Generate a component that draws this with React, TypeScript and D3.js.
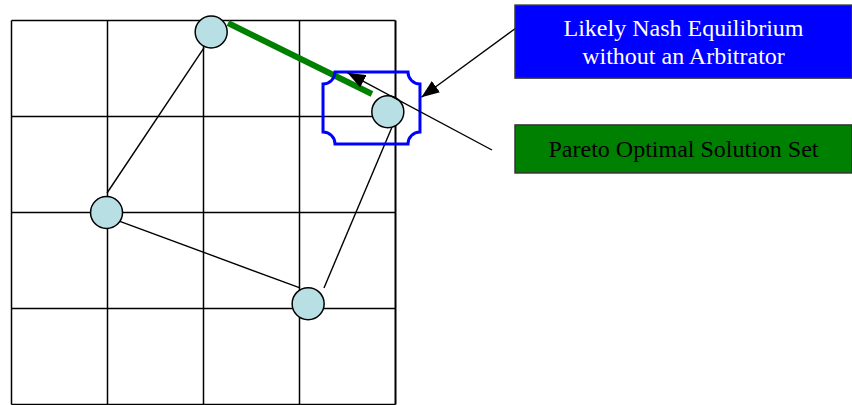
import React from 'react';
import * as d3 from 'd3';

// grid ticks (payoff units on both axes)
const gridTicks = [0, 1, 2, 3, 4];

// outcome points, in grid units
const pointX = [2.08, 0.99, 3.09, 3.92];
const pointY = [3.88, 2.0, 1.05, 3.05];

// connectors between outcomes [x1, y1, x2, y2]
const connectors = [
  [2.005, 3.714, 0.995, 2.203],
  [0.995, 1.958, 3.005, 1.214],
  [3.255, 1.214, 3.964, 2.891],
];

// pareto optimal segment
const paretoSegment = [2.255, 3.974, 3.755, 3.234];

// nash region box [x0, y0, x1, y1]
const nashRegion = [3.245, 2.714, 4.255, 3.464];

// annotation arrows [fromX, fromY, toX, toY]
const arrows = [
  [5.255, 3.922, 4.27, 3.2],
  [5.005, 2.651, 3.5, 3.455],
];

// label boxes [x0, y0, x1, y1]
const labelNames = ['nash', 'pareto'];
const labelBoxes = [
  [5.245, 4.16, 8.755, 3.4],
  [5.245, 2.912, 8.755, 2.412],
];
const labelLines = [
  ['Likely Nash Equilibrium', 'without an Arbitrator'],
  ['Pareto Optimal Solution Set'],
];

const W = 852;
const H = 405;

export default function App() {
  const x = d3.scaleLinear().domain([0, 4]).range([11.5, 395.5]);
  const y = d3.scaleLinear().domain([0, 4]).range([404.5, 20.5]);

  // concave-cornered box
  const [bx0, by0, bx1, by1] = nashRegion;
  const L = x(bx0), R = x(bx1), T = y(by1), B = y(by0);
  const r = 12;
  const p = d3.path();
  p.moveTo(L + r, T);
  p.lineTo(R - r, T);
  p.arc(R, T, r, Math.PI, Math.PI / 2, true);
  p.lineTo(R, B - r);
  p.arc(R, B, r, -Math.PI / 2, Math.PI, true);
  p.lineTo(L + r, B);
  p.arc(L, B, r, 0, -Math.PI / 2, true);
  p.lineTo(L, T + r);
  p.arc(L, T, r, Math.PI / 2, 0, true);
  p.closePath();

  return (
    <svg
      width={W}
      height={H}
      style={{ position: 'absolute', left: 0, top: 0, background: '#fff' }}
      fontFamily="'Liberation Serif', 'Times New Roman', serif"
    >
      <defs>
        <marker
          id="head"
          markerUnits="userSpaceOnUse"
          markerWidth={18}
          markerHeight={14}
          viewBox="0 0 18 14"
          refX={18}
          refY={7}
          orient="auto"
        >
          <path d="M0,0 L18,7 L0,14 Z" fill="#000" />
        </marker>
      </defs>

      {/* grid */}
      <g stroke="#000" strokeWidth={1.5}>
        {gridTicks.map((t) => (
          <line key={'v' + t} x1={x(t)} x2={x(t)} y1={y(0)} y2={y(4)} strokeWidth={t === 4 ? 2 : 1.5} />
        ))}
        {gridTicks.map((t) => (
          <line key={'h' + t} x1={x(0)} x2={x(4)} y1={y(t)} y2={y(t)} />
        ))}
      </g>

      {/* connectors */}
      <g stroke="#000" strokeWidth={1.4}>
        {connectors.map((c, i) => (
          <line key={i} x1={x(c[0])} y1={y(c[1])} x2={x(c[2])} y2={y(c[3])} />
        ))}
      </g>

      {/* points */}
      {pointX.map((px, i) => (
        <circle key={i} cx={x(px)} cy={y(pointY[i])} r={16} fill="#b8dfe3" stroke="#000" strokeWidth={1.5} />
      ))}

      {/* pareto segment */}
      <line
        x1={x(paretoSegment[0])}
        y1={y(paretoSegment[1])}
        x2={x(paretoSegment[2])}
        y2={y(paretoSegment[3])}
        stroke="#008000"
        strokeWidth={6}
      />

      {/* nash region */}
      <path d={p.toString()} fill="none" stroke="#0000ff" strokeWidth={3} />

      {/* arrows */}
      {arrows.map((a, i) => (
        <line
          key={i}
          x1={x(a[0])}
          y1={y(a[1])}
          x2={x(a[2])}
          y2={y(a[3])}
          stroke="#000"
          strokeWidth={1.4}
          markerEnd="url(#head)"
        />
      ))}

      {/* label boxes */}
      {labelBoxes.map((b, i) => {
        const bx = x(b[0]);
        const by = y(b[1]);
        const bw = x(b[2]) - bx;
        const bh = y(b[3]) - by;
        const lines = labelLines[i];
        const lh = 28;
        const cy = by + bh / 2 - ((lines.length - 1) * lh) / 2 + 8.5;
        return (
          <g key={labelNames[i]}>
            <rect
              x={bx}
              y={by}
              width={bw}
              height={bh}
              fill={i === 0 ? '#0000ff' : '#008000'}
              stroke="#333"
              strokeWidth={1.5}
            />
            {lines.map((t, j) => (
              <text
                key={j}
                x={bx + bw / 2}
                y={cy + j * lh}
                textAnchor="middle"
                fontSize={24}
                fill={i === 0 ? '#fff' : '#000'}
              >
                {t}
              </text>
            ))}
          </g>
        );
      })}
    </svg>
  );
}
